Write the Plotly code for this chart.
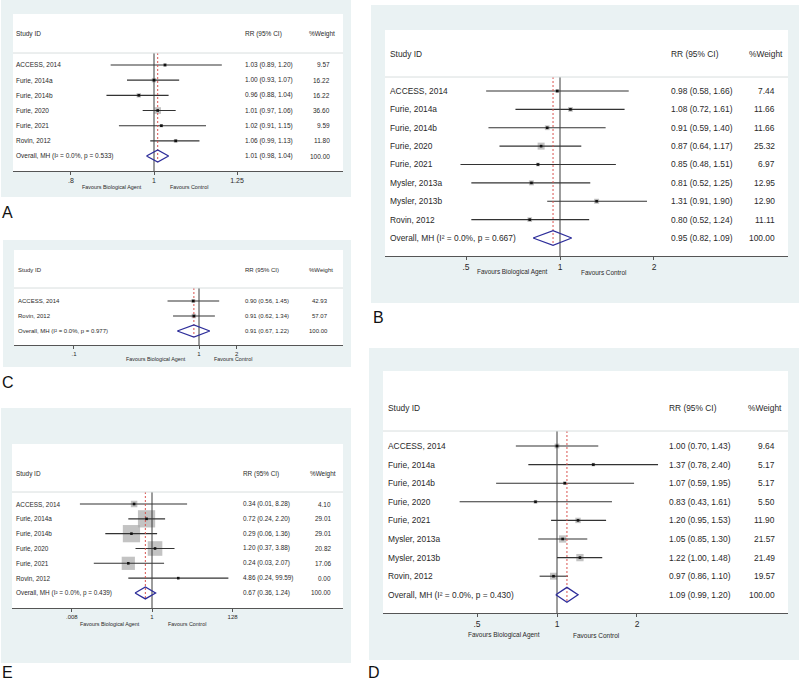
import math
import plotly.graph_objects as go

W, H = 800, 683

# ---------------- DATA ----------------
A_names = ["ACCESS, 2014", "Furie, 2014a", "Furie, 2014b", "Furie, 2020", "Furie, 2021", "Rovin, 2012"]
A_rr = [1.03, 1.00, 0.96, 1.01, 1.02, 1.06]
A_lo = [0.89, 0.93, 0.88, 0.97, 0.91, 0.99]
A_hi = [1.20, 1.07, 1.04, 1.06, 1.15, 1.13]
A_wt = [9.57, 16.22, 16.22, 36.60, 9.59, 11.80]
A_overall = [1.01, 0.98, 1.04]
A_i2_p = [0.0, 0.533]
A_ticks = [0.8, 1, 1.25]
A_ticktext = [".8", "1", "1.25"]

B_names = ["ACCESS, 2014", "Furie, 2014a", "Furie, 2014b", "Furie, 2020", "Furie, 2021",
           "Mysler, 2013a", "Mysler, 2013b", "Rovin, 2012"]
B_rr = [0.98, 1.08, 0.91, 0.87, 0.85, 0.81, 1.31, 0.80]
B_lo = [0.58, 0.72, 0.59, 0.64, 0.48, 0.52, 0.91, 0.52]
B_hi = [1.66, 1.61, 1.40, 1.17, 1.51, 1.25, 1.90, 1.24]
B_wt = [7.44, 11.66, 11.66, 25.32, 6.97, 12.95, 12.90, 11.11]
B_overall = [0.95, 0.82, 1.09]
B_i2_p = [0.0, 0.667]
B_ticks = [0.5, 1, 2]
B_ticktext = [".5", "1", "2"]

C_names = ["ACCESS, 2014", "Rovin, 2012"]
C_rr = [0.90, 0.91]
C_lo = [0.56, 0.62]
C_hi = [1.45, 1.34]
C_wt = [42.93, 57.07]
C_overall = [0.91, 0.67, 1.22]
C_i2_p = [0.0, 0.977]
C_ticks = [0.1, 1, 2]
C_ticktext = [".1", "1", "2"]

D_names = ["ACCESS, 2014", "Furie, 2014a", "Furie, 2014b", "Furie, 2020", "Furie, 2021",
           "Mysler, 2013a", "Mysler, 2013b", "Rovin, 2012"]
D_rr = [1.00, 1.37, 1.07, 0.83, 1.20, 1.05, 1.22, 0.97]
D_lo = [0.70, 0.78, 0.59, 0.43, 0.95, 0.85, 1.00, 0.86]
D_hi = [1.43, 2.40, 1.95, 1.61, 1.53, 1.30, 1.48, 1.10]
D_wt = [9.64, 5.17, 5.17, 5.50, 11.90, 21.57, 21.49, 19.57]
D_overall = [1.09, 0.99, 1.20]
D_i2_p = [0.0, 0.430]
D_ticks = [0.5, 1, 2]
D_ticktext = [".5", "1", "2"]

E_names = ["ACCESS, 2014", "Furie, 2014a", "Furie, 2014b", "Furie, 2020", "Furie, 2021", "Rovin, 2012"]
E_rr = [0.34, 0.72, 0.29, 1.20, 0.24, 4.86]
E_lo = [0.013, 0.24, 0.06, 0.37, 0.03, 0.24]
E_hi = [8.28, 2.20, 1.36, 3.88, 2.07, 99.59]
E_wt = [4.10, 29.01, 29.01, 20.82, 17.06, 0.00]
E_overall = [0.67, 0.36, 1.24]
E_i2_p = [0.0, 0.439]
E_ticks = [0.008, 1, 128]
E_ticktext = [".008", "1", "128"]

# ---------------- LAYOUT GEOMETRY (pixels) ----------------
panels = [
    dict(letter="A", names=A_names, rr=A_rr, lo=A_lo, hi=A_hi, wt=A_wt, ov=A_overall, ip=A_i2_p,
         ticks=A_ticks, ticktext=A_ticktext,
         gray=(1, 0, 351, 197), white=(13, 14, 343, 171), one=154, kln=372.0,
         row0=65, step=15.17, head=34, sep=53,
         xname=14, xrr=243, xwt=332, xwh=337, fs=6.5, tfs=7, ffs=5.4,
         fav=(144, 168, 187), let=(0, 212), boxk=1.1),
    dict(letter="B", names=B_names, rr=B_rr, lo=B_lo, hi=B_hi, wt=B_wt, ov=B_overall, ip=B_i2_p,
         ticks=B_ticks, ticktext=B_ticktext,
         gray=(371, 5, 799, 303), white=(385, 30, 788, 256), one=560, kln=135.6,
         row0=91, step=18.375, head=54, sep=77,
         xname=388, xrr=669, xwt=777, xwh=785, fs=8.4, tfs=8.5, ffs=6.4,
         fav=(550, 579, 272), let=(371, 317), boxk=1.39),
    dict(letter="C", names=C_names, rr=C_rr, lo=C_lo, hi=C_hi, wt=C_wt, ov=C_overall, ip=C_i2_p,
         ticks=C_ticks, ticktext=C_ticktext,
         gray=(3, 240, 351, 367), white=(14, 250, 343, 345), one=199, kln=54.3,
         row0=301, step=15.0, head=270, sep=288,
         xname=16, xrr=243, xwt=330, xwh=335, fs=6.0, tfs=6, ffs=5.4,
         fav=(188, 212, 359), let=(0, 382), boxk=0.6),
    dict(letter="D", names=D_names, rr=D_rr, lo=D_lo, hi=D_hi, wt=D_wt, ov=D_overall, ip=D_i2_p,
         ticks=D_ticks, ticktext=D_ticktext,
         gray=(369, 348, 799, 660), white=(383, 371, 788, 613), one=557, kln=115.4,
         row0=446, step=18.6, head=408, sep=431,
         xname=386, xrr=667, xwt=777, xwh=784, fs=8.4, tfs=8.5, ffs=6.5,
         fav=(542, 571, 635), let=(366, 672), boxk=1.57),
    dict(letter="E", names=E_names, rr=E_rr, lo=E_lo, hi=E_hi, wt=E_wt, ov=E_overall, ip=E_i2_p,
         ticks=E_ticks, ticktext=E_ticktext,
         gray=(1, 408, 351, 663), white=(12, 444, 343, 608), one=152, kln=16.6,
         row0=504, step=14.83, head=474, sep=492,
         xname=14, xrr=241, xwt=333, xwh=338, fs=6.4, tfs=6, ffs=5.4,
         fav=(142, 166, 624), let=(0, 672), boxk=3.2),
]

FONT = "Liberation Sans, Arial, sans-serif"
TXT = "#2a2a2a"
GRAYBG = "#EAF2F3"

fig = go.Figure()
shapes = []
annotations = []
layout_axes = {}


def px(x):
    return x / W


def py(y):
    return 1 - y / H


for i, P in enumerate(panels, start=1):
    xa = "x" if i == 1 else f"x{i}"
    ya = "y" if i == 1 else f"y{i}"
    xkey = "xaxis" if i == 1 else f"xaxis{i}"
    ykey = "yaxis" if i == 1 else f"yaxis{i}"
    gx0, gy0, gx1, gy1 = P["gray"]
    wx0, wy0, wx1, wy1 = P["white"]
    k10 = P["kln"] * math.log(10)
    n = len(P["names"])
    row0, step = P["row0"], P["step"]

    def ridx(ypx):
        return (ypx - row0) / step

    layout_axes[xkey] = dict(
        type="log", domain=[px(wx0), px(wx1)],
        range=[(wx0 - P["one"]) / k10, (wx1 - P["one"]) / k10],
        anchor=ya, showgrid=False, zeroline=False, showline=True,
        linecolor="#555555", linewidth=1, ticks="outside", ticklen=3,
        tickcolor="#555555", tickwidth=1, tickvals=P["ticks"], ticktext=P["ticktext"],
        tickfont=dict(family=FONT, size=P["tfs"], color=TXT), fixedrange=True,
    )
    layout_axes[ykey] = dict(
        domain=[py(wy1), py(wy0)], range=[ridx(wy1), ridx(wy0)],
        anchor=xa, visible=False, fixedrange=True,
    )

    # backgrounds
    shapes.append(dict(type="rect", xref="paper", yref="paper", x0=px(gx0), x1=px(gx1),
                       y0=py(gy1), y1=py(gy0), fillcolor=GRAYBG, line=dict(width=0), layer="below"))
    shapes.append(dict(type="rect", xref="paper", yref="paper", x0=px(wx0), x1=px(wx1),
                       y0=py(wy1), y1=py(wy0), fillcolor="white", line=dict(width=0), layer="below"))
    # header separator
    shapes.append(dict(type="line", xref="paper", yref="paper", x0=px(wx0), x1=px(wx1),
                       y0=py(P["sep"]), y1=py(P["sep"]), line=dict(color="#d8dede", width=1)))

    rows = list(range(n))
    # weight boxes
    fig.add_trace(go.Scatter(
        x=P["rr"], y=rows, xaxis=xa, yaxis=ya, mode="markers", hoverinfo="skip",
        marker=dict(symbol="square", color="#a9a9a9",
                    size=[P["boxk"] * math.sqrt(w) for w in P["wt"]], line=dict(width=0)),
    ))
    # CI lines
    cx, cy = [], []
    for r, lo, hi in zip(rows, P["lo"], P["hi"]):
        cx += [lo, hi, None]
        cy += [r, r, None]
    fig.add_trace(go.Scatter(x=cx, y=cy, xaxis=xa, yaxis=ya, mode="lines", hoverinfo="skip",
                             line=dict(color="#333333", width=1.1)))
    # null line at 1
    fig.add_trace(go.Scatter(x=[1, 1], y=[ridx(P["sep"]), ridx(wy1)], xaxis=xa, yaxis=ya,
                             mode="lines", hoverinfo="skip", line=dict(color="#3a3a3a", width=1)))
    # overall estimate dashed line
    ov, olo, ohi = P["ov"]
    fig.add_trace(go.Scatter(x=[ov, ov], y=[ridx(P["sep"]), n + 0.4], xaxis=xa, yaxis=ya,
                             mode="lines", hoverinfo="skip",
                             line=dict(color="#d9534f", width=1, dash="2px,2px")))
    # point dots
    fig.add_trace(go.Scatter(x=P["rr"], y=rows, xaxis=xa, yaxis=ya, mode="markers", hoverinfo="skip",
                             marker=dict(symbol="square", color="#111111", size=2.6, line=dict(width=0))))
    # diamond
    d = 0.4
    fig.add_trace(go.Scatter(x=[olo, ov, ohi, ov, olo], y=[n, n - d, n, n + d, n], xaxis=xa, yaxis=ya,
                             mode="lines", hoverinfo="skip", line=dict(color="#2d2d9a", width=1.3)))

    # text columns
    fs = P["fs"]
    tf = dict(family=FONT, size=fs, color=TXT)
    hy = ridx(P["head"])

    def ann(text, x, y, anchor, font):
        annotations.append(dict(text=text, x=px(x), y=y, xref="paper", yref=ya,
                                xanchor=anchor, yanchor="middle", showarrow=False, font=font))

    ann("Study ID", P["xname"], hy, "left", tf)
    ann("RR (95% CI)", P["xrr"], hy, "left", tf)
    ann("%Weight", P["xwh"], hy, "right", tf)
    for r, nm, e, lo, hi, w in zip(rows, P["names"], P["rr"], P["lo"], P["hi"], P["wt"]):
        ann(nm, P["xname"], r, "left", tf)
        ann(f"{e:.2f} ({lo:.2f}, {hi:.2f})", P["xrr"], r, "left", tf)
        ann(f"{w:.2f}", P["xwt"], r, "right", tf)
    i2, pv = P["ip"]
    ann(f"Overall, MH (I\u00b2 = {i2:.1f}%, p = {pv:.3f})", P["xname"], n, "left", tf)
    ann(f"{ov:.2f} ({olo:.2f}, {ohi:.2f})", P["xrr"], n, "left", tf)
    ann("100.00", P["xwt"], n, "right", tf)

    # favours labels
    fl, fr, fy = P["fav"]
    ff = dict(family=FONT, size=P["ffs"], color=TXT)
    annotations.append(dict(text="Favours Biological Agent", x=px(fl), y=py(fy), xref="paper", yref="paper",
                            xanchor="right", yanchor="middle", showarrow=False, font=ff))
    annotations.append(dict(text="Favours Control", x=px(fr), y=py(fy), xref="paper", yref="paper",
                            xanchor="left", yanchor="middle", showarrow=False, font=ff))
    # panel letter
    lx, ly = P["let"]
    annotations.append(dict(text=P["letter"], x=px(lx), y=py(ly), xref="paper", yref="paper",
                            xanchor="left", yanchor="middle", showarrow=False,
                            font=dict(family=FONT, size=16, color="#111111")))

fig.update_layout(
    width=W, height=H, margin=dict(l=0, r=0, t=0, b=0),
    paper_bgcolor="white", plot_bgcolor="white", showlegend=False,
    shapes=shapes, annotations=annotations, **layout_axes,
)

fig.write_html("out.html", config={"displayModeBar": False},
               post_script="document.body.style.margin='0px';document.body.style.overflow='hidden';")
